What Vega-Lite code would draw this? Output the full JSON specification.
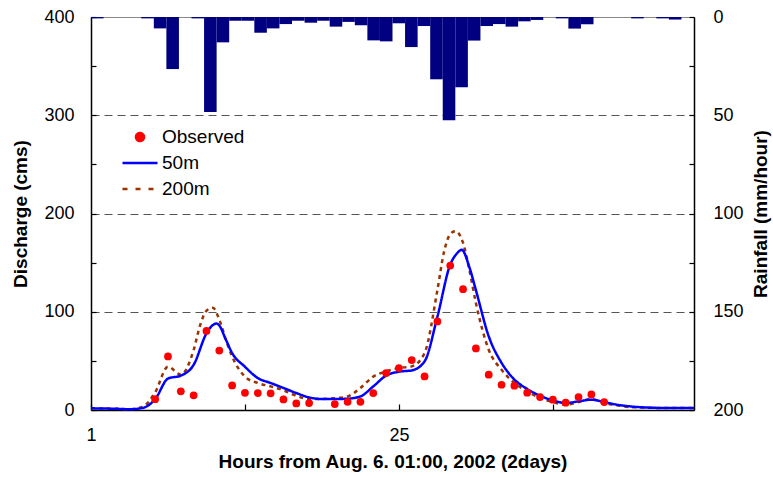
{
  "$schema": "https://vega.github.io/schema/vega-lite/v6.json",
  "width": 603,
  "height": 393,
  "autosize": {"type": "none"},
  "padding": {"left": 91, "top": 17, "right": 79, "bottom": 68},
  "background": "white",
  "config": {
    "font": "Liberation Sans",
    "view": {"stroke": "#888", "strokeWidth": 1},
    "axis": {
      "domainColor": "black",
      "domainWidth": 1.5,
      "tickColor": "black",
      "tickWidth": 1.2,
      "tickSize": -5,
      "labelFont": "Liberation Sans",
      "labelFontSize": 18,
      "labelColor": "black",
      "titleFont": "Liberation Sans",
      "titleFontSize": 19,
      "titleFontWeight": "bold",
      "titleColor": "black",
      "grid": false
    },
    "legend": {
      "labelFont": "Liberation Sans",
      "labelFontSize": 19,
      "labelColor": "black"
    }
  },
  "datasets": {
    "rain": [
      {"start": 0, "end": 1, "rain": 0.7},
      {"start": 1, "end": 2, "rain": 0},
      {"start": 2, "end": 3, "rain": 0},
      {"start": 3, "end": 4, "rain": 0},
      {"start": 4, "end": 5, "rain": 0.7},
      {"start": 5, "end": 6, "rain": 5.8},
      {"start": 6, "end": 7, "rain": 26.5},
      {"start": 7, "end": 8, "rain": 0},
      {"start": 8, "end": 9, "rain": 0.7},
      {"start": 9, "end": 10, "rain": 48.3},
      {"start": 10, "end": 11, "rain": 12.9},
      {"start": 11, "end": 12, "rain": 1.9},
      {"start": 12, "end": 13, "rain": 1.9},
      {"start": 13, "end": 14, "rain": 8},
      {"start": 14, "end": 15, "rain": 5.8},
      {"start": 15, "end": 16, "rain": 3.6},
      {"start": 16, "end": 17, "rain": 1.9},
      {"start": 17, "end": 18, "rain": 2.9},
      {"start": 18, "end": 19, "rain": 1.9},
      {"start": 19, "end": 20, "rain": 4.9},
      {"start": 20, "end": 21, "rain": 2.5},
      {"start": 21, "end": 22, "rain": 4.2},
      {"start": 22, "end": 23, "rain": 11.9},
      {"start": 23, "end": 24, "rain": 12.4},
      {"start": 24, "end": 25, "rain": 3.2},
      {"start": 25, "end": 26, "rain": 15.3},
      {"start": 26, "end": 27, "rain": 4.6},
      {"start": 27, "end": 28, "rain": 31.7},
      {"start": 28, "end": 29, "rain": 52.6},
      {"start": 29, "end": 30, "rain": 35.8},
      {"start": 30, "end": 31, "rain": 12.0},
      {"start": 31, "end": 32, "rain": 4.6},
      {"start": 32, "end": 33, "rain": 3.6},
      {"start": 33, "end": 34, "rain": 4.9},
      {"start": 34, "end": 35, "rain": 2.2},
      {"start": 35, "end": 36, "rain": 1.5},
      {"start": 36, "end": 37, "rain": 0},
      {"start": 37, "end": 38, "rain": 0.7},
      {"start": 38, "end": 39, "rain": 5.9},
      {"start": 39, "end": 40, "rain": 3.7},
      {"start": 40, "end": 41, "rain": 0},
      {"start": 41, "end": 42, "rain": 0},
      {"start": 42, "end": 43, "rain": 0},
      {"start": 43, "end": 44, "rain": 0.7},
      {"start": 44, "end": 45, "rain": 0},
      {"start": 45, "end": 46, "rain": 0.7},
      {"start": 46, "end": 47, "rain": 1.3},
      {"start": 47, "end": 48, "rain": 0}
    ],
    "observed": [
      {"hour": 6, "q": 11, "series": "Observed"},
      {"hour": 7, "q": 54.5, "series": "Observed"},
      {"hour": 8, "q": 19, "series": "Observed"},
      {"hour": 9, "q": 15, "series": "Observed"},
      {"hour": 10, "q": 80.5, "series": "Observed"},
      {"hour": 11, "q": 60.5, "series": "Observed"},
      {"hour": 12, "q": 25, "series": "Observed"},
      {"hour": 13, "q": 17.5, "series": "Observed"},
      {"hour": 14, "q": 17.3, "series": "Observed"},
      {"hour": 15, "q": 17, "series": "Observed"},
      {"hour": 16, "q": 10.8, "series": "Observed"},
      {"hour": 17, "q": 6.7, "series": "Observed"},
      {"hour": 18, "q": 7, "series": "Observed"},
      {"hour": 20, "q": 6.1, "series": "Observed"},
      {"hour": 21, "q": 8.3, "series": "Observed"},
      {"hour": 22, "q": 8.3, "series": "Observed"},
      {"hour": 23, "q": 17.3, "series": "Observed"},
      {"hour": 24, "q": 37.6, "series": "Observed"},
      {"hour": 25, "q": 42.7, "series": "Observed"},
      {"hour": 26, "q": 50.8, "series": "Observed"},
      {"hour": 27, "q": 34.2, "series": "Observed"},
      {"hour": 28, "q": 90.2, "series": "Observed"},
      {"hour": 29, "q": 147, "series": "Observed"},
      {"hour": 30, "q": 123, "series": "Observed"},
      {"hour": 31, "q": 62.7, "series": "Observed"},
      {"hour": 32, "q": 35.9, "series": "Observed"},
      {"hour": 33, "q": 25.7, "series": "Observed"},
      {"hour": 34, "q": 24.7, "series": "Observed"},
      {"hour": 35, "q": 17.6, "series": "Observed"},
      {"hour": 36, "q": 13.2, "series": "Observed"},
      {"hour": 37, "q": 10.5, "series": "Observed"},
      {"hour": 38, "q": 7.4, "series": "Observed"},
      {"hour": 39, "q": 13.2, "series": "Observed"},
      {"hour": 40, "q": 15.9, "series": "Observed"},
      {"hour": 41, "q": 8.1, "series": "Observed"}
    ],
    "sim": [
      {"hour": 1, "q": 1.7, "series": "200m"},
      {"hour": 2, "q": 1.5, "series": "200m"},
      {"hour": 3, "q": 1.2, "series": "200m"},
      {"hour": 4, "q": 0.8, "series": "200m"},
      {"hour": 5, "q": 3, "series": "200m"},
      {"hour": 6, "q": 18, "series": "200m"},
      {"hour": 7, "q": 44, "series": "200m"},
      {"hour": 8, "q": 36, "series": "200m"},
      {"hour": 9, "q": 61, "series": "200m"},
      {"hour": 9.5, "q": 86, "series": "200m"},
      {"hour": 10, "q": 101, "series": "200m"},
      {"hour": 10.5, "q": 104, "series": "200m"},
      {"hour": 11, "q": 92, "series": "200m"},
      {"hour": 11.5, "q": 72, "series": "200m"},
      {"hour": 12, "q": 54.5, "series": "200m"},
      {"hour": 13, "q": 34, "series": "200m"},
      {"hour": 14, "q": 27.5, "series": "200m"},
      {"hour": 15, "q": 24, "series": "200m"},
      {"hour": 16, "q": 20, "series": "200m"},
      {"hour": 17, "q": 14.5, "series": "200m"},
      {"hour": 18, "q": 11.2, "series": "200m"},
      {"hour": 19, "q": 11.2, "series": "200m"},
      {"hour": 20, "q": 12, "series": "200m"},
      {"hour": 21, "q": 13.8, "series": "200m"},
      {"hour": 22, "q": 22.4, "series": "200m"},
      {"hour": 23, "q": 34, "series": "200m"},
      {"hour": 24, "q": 39.3, "series": "200m"},
      {"hour": 25, "q": 42.7, "series": "200m"},
      {"hour": 26, "q": 44.4, "series": "200m"},
      {"hour": 27, "q": 58, "series": "200m"},
      {"hour": 28, "q": 122, "series": "200m"},
      {"hour": 28.5, "q": 160, "series": "200m"},
      {"hour": 29, "q": 179, "series": "200m"},
      {"hour": 29.4, "q": 182, "series": "200m"},
      {"hour": 30, "q": 170, "series": "200m"},
      {"hour": 30.5, "q": 142, "series": "200m"},
      {"hour": 31, "q": 109, "series": "200m"},
      {"hour": 32, "q": 61.3, "series": "200m"},
      {"hour": 33, "q": 41, "series": "200m"},
      {"hour": 34, "q": 27.5, "series": "200m"},
      {"hour": 35, "q": 19, "series": "200m"},
      {"hour": 36, "q": 12.2, "series": "200m"},
      {"hour": 37, "q": 8.1, "series": "200m"},
      {"hour": 38, "q": 5.4, "series": "200m"},
      {"hour": 39, "q": 8, "series": "200m"},
      {"hour": 40, "q": 11.2, "series": "200m"},
      {"hour": 41, "q": 7, "series": "200m"},
      {"hour": 42, "q": 4.7, "series": "200m"},
      {"hour": 43, "q": 3, "series": "200m"},
      {"hour": 44, "q": 2.5, "series": "200m"},
      {"hour": 45, "q": 2.1, "series": "200m"},
      {"hour": 46, "q": 2, "series": "200m"},
      {"hour": 47, "q": 2, "series": "200m"},
      {"hour": 48, "q": 2, "series": "200m"},
      {"hour": 1, "q": 1.7, "series": "50m"},
      {"hour": 2, "q": 1.5, "series": "50m"},
      {"hour": 3, "q": 1.2, "series": "50m"},
      {"hour": 4, "q": 0.8, "series": "50m"},
      {"hour": 5, "q": 2, "series": "50m"},
      {"hour": 6, "q": 11, "series": "50m"},
      {"hour": 7, "q": 32, "series": "50m"},
      {"hour": 8, "q": 35, "series": "50m"},
      {"hour": 9, "q": 46, "series": "50m"},
      {"hour": 10, "q": 78, "series": "50m"},
      {"hour": 10.5, "q": 86.5, "series": "50m"},
      {"hour": 10.8, "q": 88, "series": "50m"},
      {"hour": 11, "q": 86, "series": "50m"},
      {"hour": 11.5, "q": 72, "series": "50m"},
      {"hour": 12, "q": 58, "series": "50m"},
      {"hour": 13, "q": 44, "series": "50m"},
      {"hour": 14, "q": 32.5, "series": "50m"},
      {"hour": 15, "q": 27.5, "series": "50m"},
      {"hour": 16, "q": 22.4, "series": "50m"},
      {"hour": 17, "q": 17.3, "series": "50m"},
      {"hour": 18, "q": 12.8, "series": "50m"},
      {"hour": 19, "q": 11.2, "series": "50m"},
      {"hour": 20, "q": 11.2, "series": "50m"},
      {"hour": 21, "q": 11.5, "series": "50m"},
      {"hour": 22, "q": 13.8, "series": "50m"},
      {"hour": 23, "q": 24, "series": "50m"},
      {"hour": 24, "q": 35, "series": "50m"},
      {"hour": 25, "q": 39, "series": "50m"},
      {"hour": 26, "q": 40.3, "series": "50m"},
      {"hour": 27, "q": 49.5, "series": "50m"},
      {"hour": 28, "q": 95, "series": "50m"},
      {"hour": 29, "q": 148, "series": "50m"},
      {"hour": 29.5, "q": 159, "series": "50m"},
      {"hour": 29.9, "q": 163, "series": "50m"},
      {"hour": 30.5, "q": 145, "series": "50m"},
      {"hour": 31, "q": 122, "series": "50m"},
      {"hour": 32, "q": 75, "series": "50m"},
      {"hour": 33, "q": 48, "series": "50m"},
      {"hour": 34, "q": 31, "series": "50m"},
      {"hour": 35, "q": 21.4, "series": "50m"},
      {"hour": 36, "q": 14.5, "series": "50m"},
      {"hour": 37, "q": 9.8, "series": "50m"},
      {"hour": 38, "q": 7.1, "series": "50m"},
      {"hour": 39, "q": 8.8, "series": "50m"},
      {"hour": 40, "q": 10.5, "series": "50m"},
      {"hour": 41, "q": 8.1, "series": "50m"},
      {"hour": 42, "q": 5.4, "series": "50m"},
      {"hour": 43, "q": 3.7, "series": "50m"},
      {"hour": 44, "q": 2.7, "series": "50m"},
      {"hour": 45, "q": 2.2, "series": "50m"},
      {"hour": 46, "q": 2, "series": "50m"},
      {"hour": 47, "q": 2, "series": "50m"},
      {"hour": 48, "q": 2, "series": "50m"}
    ]
  },
  "layer": [
    {
      "data": {"name": "rain"},
      "mark": {"type": "rect", "color": "#000080"},
      "encoding": {
        "x": {"field": "start", "type": "quantitative", "scale": {"domain": [0, 48], "nice": false, "zero": false}, "axis": null},
        "x2": {"field": "end"},
        "y": {"field": "rain", "type": "quantitative", "scale": {"domain": [0, 200], "reverse": true, "nice": false},
          "axis": {
            "orient": "right",
            "values": [0, 25, 50, 75, 100, 125, 150, 175, 200],
            "labelExpr": "datum.value % 50 === 0 ? datum.label : ''",
            "labelAlign": "left",
            "labelPadding": 24,
            "title": "Rainfall (mm/hour)",
            "titleAngle": 270,
            "titlePadding": 27
          }
        },
        "y2": {"datum": 0}
      }
    },
    {
      "layer": [
        {
          "data": {"name": "sim"},
          "mark": {"type": "line", "interpolate": "monotone", "strokeWidth": 2.5},
          "encoding": {
            "x": {"field": "hour", "type": "quantitative", "scale": {"domain": [1, 48], "nice": false, "zero": false},
              "axis": {
                "orient": "bottom",
                "values": [1, 13, 25, 37],
                "labelExpr": "datum.value === 1 || datum.value === 25 ? datum.label : ''",
                "labelFlush": false,
                "labelPadding": 22,
                "tickSize": -6,
                "title": "Hours from Aug. 6. 01:00, 2002 (2days)",
                "titlePadding": 8
              }
            },
            "y": {"field": "q", "type": "quantitative", "scale": {"domain": [0, 400], "nice": false},
              "axis": {
                "orient": "left",
                "values": [0, 50, 100, 150, 200, 250, 300, 350, 400],
                "labelExpr": "datum.value % 100 === 0 ? datum.label : ''",
                "labelFlush": false,
                "labelPadding": 22,
                "title": "Discharge (cms)",
                "titlePadding": 13,
                "grid": true,
                "gridColor": "#555",
                "gridDash": [8, 5],
                "gridWidth": 1.2,
                "gridOpacity": {"condition": {"test": "datum.value % 100 === 0 && datum.value > 0 && datum.value < 400", "value": 1}, "value": 0}
              }
            },
            "color": {"field": "series", "type": "nominal",
              "scale": {"domain": ["Observed", "50m", "200m"], "range": ["#ff0000", "#0000ff", "#993300"]},
              "legend": {
                "title": null,
                "orient": "none",
                "legendX": 30,
                "legendY": 107,
                "padding": 0,
                "symbolSize": 1225,
                "symbolStrokeWidth": 2.5,
                "clipHeight": 26,
                "rowPadding": 0,
                "labelOffset": 3,
                "encode": {
                  "symbols": {
                    "update": {
                      "shape": {"signal": "datum.value === 'Observed' ? 'circle' : 'stroke'"},
                      "size": {"signal": "datum.value === 'Observed' ? 64 : 1225"},
                      "fill": {"signal": "datum.value === 'Observed' ? '#ff0000' : 'transparent'"},
                      "stroke": {"signal": "datum.value === 'Observed' ? 'transparent' : (datum.value === '50m' ? '#0000ff' : '#993300')"},
                      "strokeDash": {"signal": "datum.value === '200m' ? [5, 8] : [1, 0]"},
                      "strokeWidth": {"value": 2.5},
                      "opacity": {"value": 1}
                    }
                  }
                }
              }
            },
            "strokeDash": {"field": "series", "type": "nominal",
              "scale": {"domain": ["50m", "200m"], "range": [[1, 0], [4, 4]]},
              "legend": null
            }
          }
        },
        {
          "data": {"name": "observed"},
          "mark": {"type": "point", "filled": true, "opacity": 1, "size": 60, "shape": "circle"},
          "encoding": {
            "x": {"field": "hour", "type": "quantitative"},
            "y": {"field": "q", "type": "quantitative"},
            "color": {"field": "series", "type": "nominal"}
          }
        }
      ]
    }
  ],
  "resolve": {"scale": {"x": "independent", "y": "independent"}, "axis": {"x": "independent", "y": "independent"}}
}
